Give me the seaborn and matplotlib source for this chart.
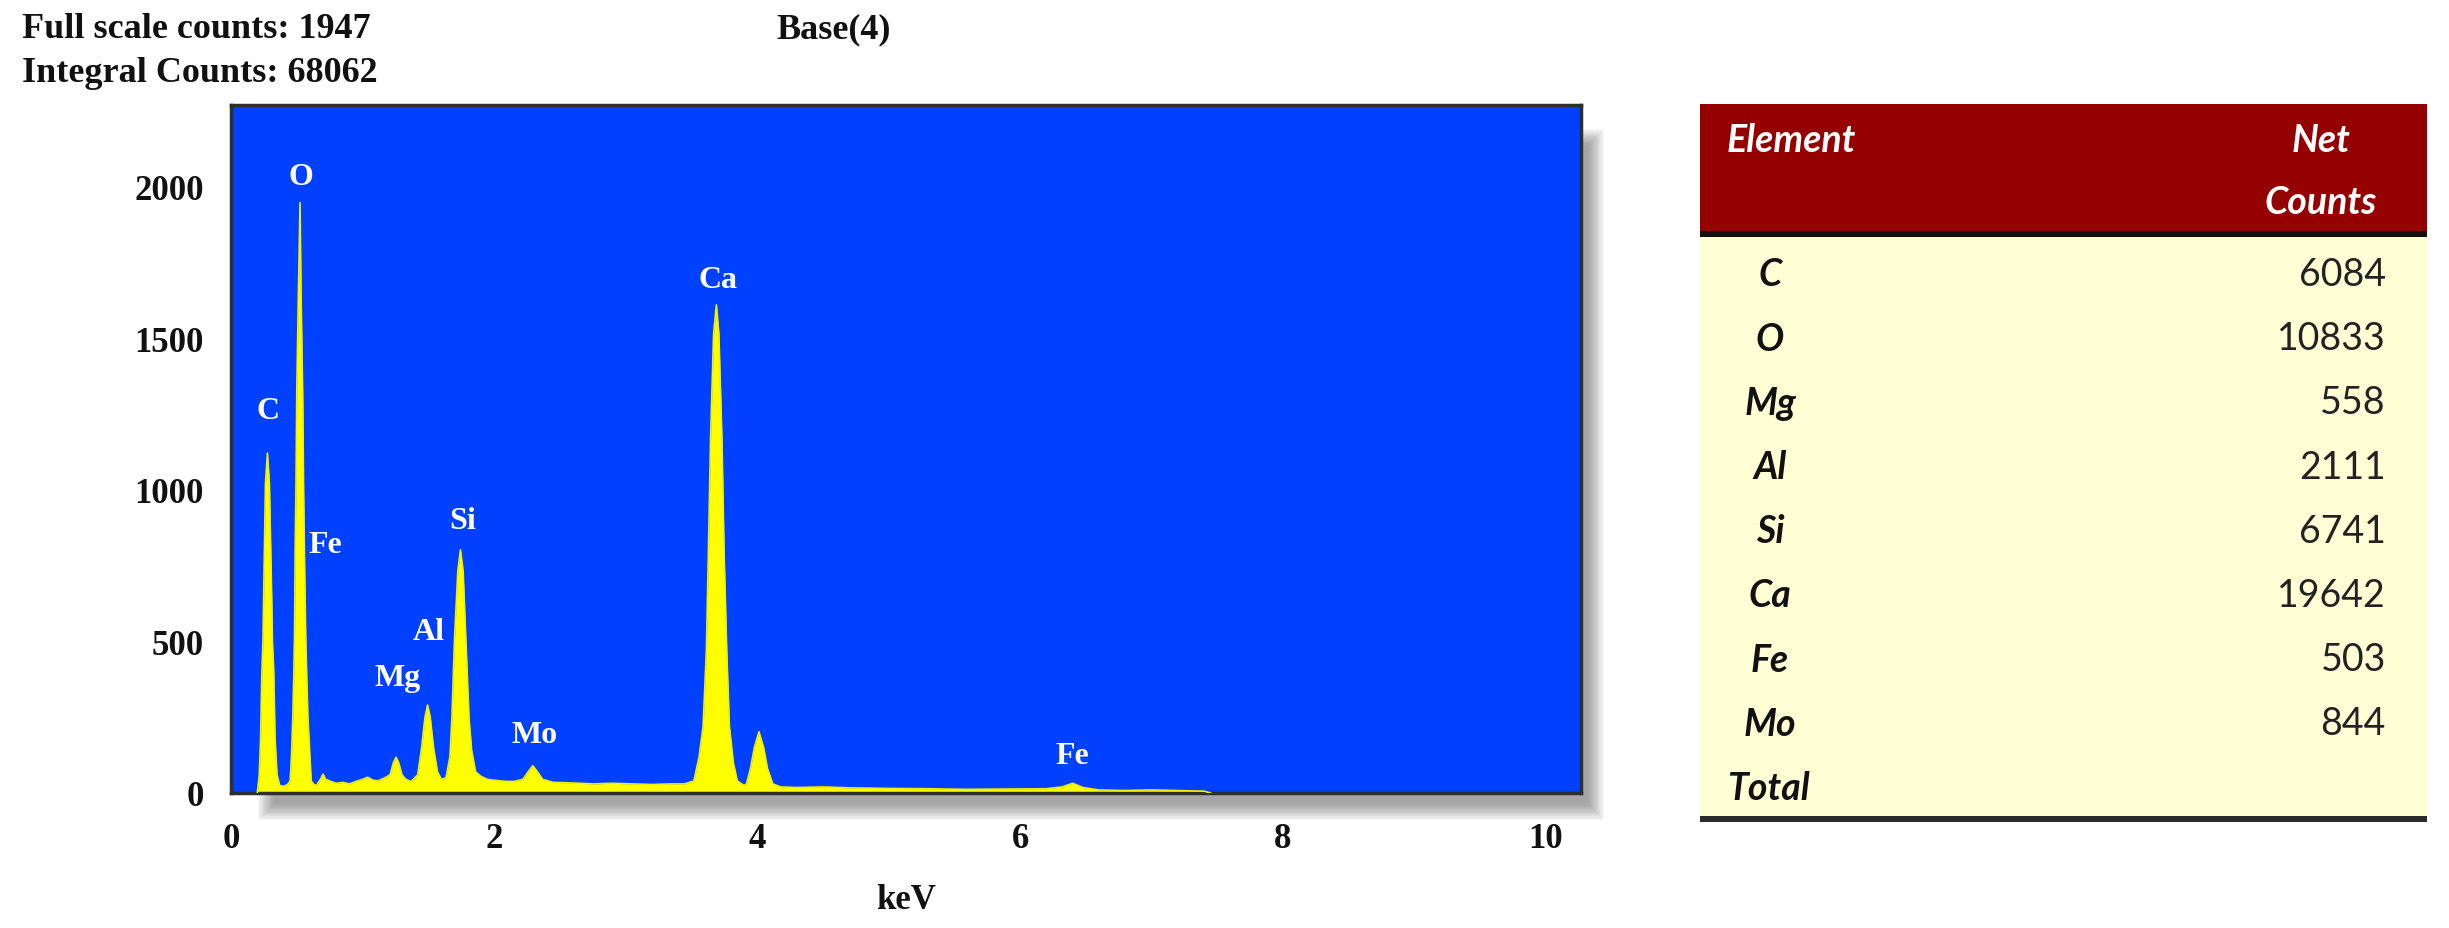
import matplotlib
matplotlib.use("Agg")
import matplotlib.pyplot as plt
import seaborn as sns
import pandas as pd
from matplotlib.patches import Rectangle

# EDS spectrum outline (keV, counts)
spec_kev = [0.20, 0.215, 0.225, 0.235, 0.243, 0.248, 0.262, 0.277, 0.292, 0.31, 0.315, 0.325, 0.335,
            0.35, 0.37, 0.40, 0.43, 0.45, 0.46, 0.47, 0.478, 0.483, 0.488, 0.494, 0.50, 0.512, 0.525,
            0.533, 0.545, 0.552, 0.558, 0.568, 0.575, 0.585, 0.60, 0.61, 0.63, 0.65, 0.68, 0.70, 0.72,
            0.76, 0.80, 0.85, 0.90, 0.95, 1.00, 1.04, 1.08, 1.12, 1.17, 1.21, 1.235, 1.255, 1.275,
            1.30, 1.33, 1.37, 1.42, 1.45, 1.475, 1.495, 1.515, 1.54, 1.57, 1.60, 1.635, 1.665, 1.68,
            1.70, 1.725, 1.745, 1.765, 1.785, 1.81, 1.83, 1.86, 1.90, 1.95, 2.00, 2.05, 2.10, 2.15,
            2.22, 2.26, 2.295, 2.33, 2.37, 2.45, 2.60, 2.75, 2.90, 3.05, 3.20, 3.35, 3.45, 3.52,
            3.56, 3.59, 3.615, 3.63, 3.647, 3.67, 3.691, 3.71, 3.733, 3.75, 3.77, 3.79, 3.82, 3.85,
            3.90, 3.92, 3.95, 3.98, 4.015, 4.05, 4.08, 4.12, 4.18, 4.30, 4.50, 4.70, 5.00, 5.30,
            5.60, 5.90, 6.20, 6.32, 6.40, 6.48, 6.60, 6.80, 7.00, 7.20, 7.40, 7.45]
spec_counts = [0, 60, 180, 400, 500, 633, 1020, 1121, 1020, 633, 500, 400, 180,
               60, 25, 22, 28, 40, 120, 247, 400, 520, 800, 1000, 1320, 1634, 1947,
               1634, 1320, 1000, 800, 520, 400, 247, 120, 40, 28, 25, 45, 62, 45,
               38, 32, 35, 30, 38, 45, 52, 42, 40, 50, 60, 100, 118, 100,
               60, 45, 38, 60, 150, 250, 290, 250, 150, 70, 45, 50, 120, 247,
               513, 733, 802, 733, 513, 247, 140, 70, 55, 45, 42, 40, 38, 38,
               45, 70, 90, 70, 45, 35, 33, 30, 32, 30, 28, 30, 30, 40,
               120, 220, 467, 787, 1173, 1515, 1610, 1515, 1173, 787, 467, 220, 100, 40,
               25, 30, 80, 150, 202, 150, 80, 30, 20, 18, 20, 17, 15, 14,
               12, 13, 14, 20, 32, 18, 10, 8, 10, 8, 6, 0]

peak_names = ["C", "O", "Fe", "Mg", "Al", "Si", "Mo", "Ca", "Fe"]
peak_kev = [0.28, 0.53, 0.72, 1.27, 1.50, 1.76, 2.31, 3.70, 6.40]
peak_lbl_y = [1260, 2033, 820, 380, 533, 900, 193, 1693, 125]

x_ticks = [0, 2, 4, 6, 8, 10]
y_ticks = [0, 500, 1000, 1500, 2000]

header_lines = ["Full scale counts: 1947", "Integral Counts: 68062"]
title = "Base(4)"

elements = ["C", "O", "Mg", "Al", "Si", "Ca", "Fe", "Mo"]
net_counts = [6084, 10833, 558, 2111, 6741, 19642, 503, 844]

W, H = 2449, 929

sns.set_theme(style="white")
plt.rcParams["font.family"] = ["Liberation Serif", "DejaVu Serif"]
plt.rcParams["font.weight"] = "bold"

fig = plt.figure(figsize=(W / 100, H / 100), dpi=100)


def fbox(x0, y0, x1, y1):
    # pixel box (top-left origin) -> figure fraction rect
    return [x0 / W, 1 - y1 / H, (x1 - x0) / W, (y1 - y0) / H]


# soft drop shadow behind the plot frame
for i in range(14):
    b = fbox(258 + i * 1.2, 130 + i * 1.2, 1604 - i * 1.2, 821 - i * 1.2)
    fig.add_artist(Rectangle((b[0], b[1]), b[2], b[3], transform=fig.transFigure,
                             color="#4a4a4a", alpha=0.045, lw=0, zorder=0))

ax = fig.add_axes(fbox(231, 106, 1581, 794))
ax.set_facecolor("#0040ff")
df = pd.DataFrame({"keV": spec_kev, "counts": spec_counts})
ax.fill_between(df["keV"], df["counts"], color="#ffff00", lw=0, zorder=2)
sns.lineplot(data=df, x="keV", y="counts", ax=ax, color="#f2f200", lw=1.2,
             estimator=None, sort=False, zorder=3)

for name, k, yv in zip(peak_names, peak_kev, peak_lbl_y):
    ax.text(k, yv, name, ha="center", va="center", color="white",
            fontsize=23, fontweight="bold", zorder=4)

ax.set_xlim(0, 10.266)
ax.set_ylim(0, 2269)
ax.set_xticks(x_ticks)
ax.set_yticks(y_ticks)
ax.tick_params(axis="both", direction="out", length=14.5, width=2.2, color="#555555",
               labelsize=25, labelcolor="#111111")
ax.tick_params(axis="y", pad=5)
ax.tick_params(axis="x", pad=6.5)
for lab in ax.get_xticklabels() + ax.get_yticklabels():
    lab.set_fontweight("bold")
for s in ax.spines.values():
    s.set_color("#2e2e2e")
    s.set_linewidth(2.5)
ax.set_xlabel("keV", fontsize=25, fontweight="bold", labelpad=20, color="#111111")
ax.set_ylabel("")

fig.text(22 / W, 1 - 30 / H, header_lines[0], fontsize=26, fontweight="bold",
         ha="left", va="center", color="#111111")
fig.text(22 / W, 1 - 73 / H, header_lines[1], fontsize=26, fontweight="bold",
         ha="left", va="center", color="#111111")
fig.text(834 / W, 1 - 30 / H, title, fontsize=26, fontweight="bold",
         ha="center", va="center", color="#111111")

# element / net counts table
tax = fig.add_axes(fbox(1700, 105, 2427, 824))
tax.set_xlim(1700, 2427)
tax.set_ylim(824, 105)
tax.axis("off")
tax.add_patch(Rectangle((1700, 105), 727, 128, color="#950000", lw=0))
tax.add_patch(Rectangle((1700, 232), 727, 6, color="#111111", lw=0))
tax.add_patch(Rectangle((1700, 238), 727, 579, color="#ffffd6", lw=0))
tax.add_patch(Rectangle((1700, 817), 727, 6, color="#2a2a2a", lw=0))

tfont = dict(family=["Lato", "DejaVu Sans"], fontsize=27)
tax.text(1727, 140, "Element", ha="left", va="center", color="white",
         style="italic", weight="bold", **tfont)
tax.text(2321, 140, "Net", ha="center", va="center", color="white",
         style="italic", weight="bold", **tfont)
tax.text(2321, 203, "Counts", ha="center", va="center", color="white",
         style="italic", weight="bold", **tfont)
for i, (el, nc) in enumerate(zip(elements, net_counts)):
    yy = 275 + i * 64.2
    tax.text(1770, yy, el, ha="center", va="center", color="#111111",
             style="italic", weight="bold", **tfont)
    tax.text(2386, yy, str(nc), ha="right", va="center", color="#222222",
             weight="normal", **tfont)
tax.text(1727, 789, "Total", ha="left", va="center", color="#111111",
         style="italic", weight="bold", **tfont)

fig.savefig("out.png", dpi=100, facecolor="white")
